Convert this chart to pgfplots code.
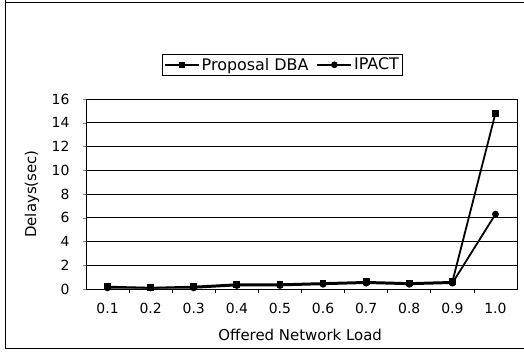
\documentclass[border=0pt]{standalone}
\usepackage{pgfplots}
\pgfplotsset{compat=1.18}
\usepackage{fontspec}
\setmainfont{DejaVu Sans}
\begin{document}
\begin{tikzpicture}[x=1bp,y=1bp]
\useasboundingbox (0,0) rectangle (524,359);
\draw[line width=1bp] (5,359) -- (5,11);
\draw[line width=1bp] (5,356) -- (524,356);
\draw[line width=1bp] (5,11) -- (524,11);
\begin{axis}[
  at={(86bp,70bp)}, anchor=south west,
  scale only axis, width=431bp, height=190bp,
  xmin=0.5, xmax=10.5, ymin=0, ymax=16,
  xtick={1,...,10},
  xticklabels={0.1,0.2,0.3,0.4,0.5,0.6,0.7,0.8,0.9,1.0},
  major x tick style={draw=none},
  minor xtick={1.5,2.5,...,9.5},
  minor tick length=4bp,
  xtick pos=bottom, ytick pos=left,
  x tick style={black, line width=0.8bp},
  ytick={0,2,...,16},
  tick align=outside, major tick length=3bp,
  ymajorgrids, grid style={black, line width=1bp},
  axis line style={line width=1bp},
  /pgf/number format/assume math mode=true,
  tick label style={font=\fontsize{14}{16}\selectfont},
  xticklabel style={yshift=-8bp},
  yticklabel style={xshift=-10bp},
  xlabel={Offered Network Load},
  ylabel={Delays(sec)},
  label style={font=\fontsize{15}{17}\selectfont},
  xlabel style={at={(axis description cs:0.497,-0.242)}, anchor=center},
  ylabel style={at={(axis description cs:-0.125,0.5)}, anchor=center},
  legend columns=2,
  legend style={at={(axis description cs:0.456,1.18)}, anchor=center,
    draw=black, line width=0.8bp, font=\fontsize{16}{18}\selectfont,
    inner sep=1.5bp, /tikz/every even column/.append style={column sep=6bp}},
  legend image code/.code={\draw[#1, line width=1.6bp] plot[mark repeat=2, mark phase=2] coordinates {(0bp,0bp) (17bp,0bp) (34bp,0bp)};},
]
\addplot[black, line width=1.8bp, mark=square*, mark size=2.5bp] coordinates {
(1,0.2) (2,0.1) (3,0.2) (4,0.4) (5,0.4) (6,0.5) (7,0.6) (8,0.5) (9,0.6) (10,14.8)};
\addlegendentry{Proposal DBA}
\addplot[black, line width=1.8bp, mark=*, mark size=2.5bp] coordinates {
(1,0.1) (2,0.1) (3,0.1) (4,0.3) (5,0.3) (6,0.4) (7,0.5) (8,0.4) (9,0.5) (10,6.3)};
\addlegendentry{IPACT}
\end{axis}
\end{tikzpicture}
\end{document}
